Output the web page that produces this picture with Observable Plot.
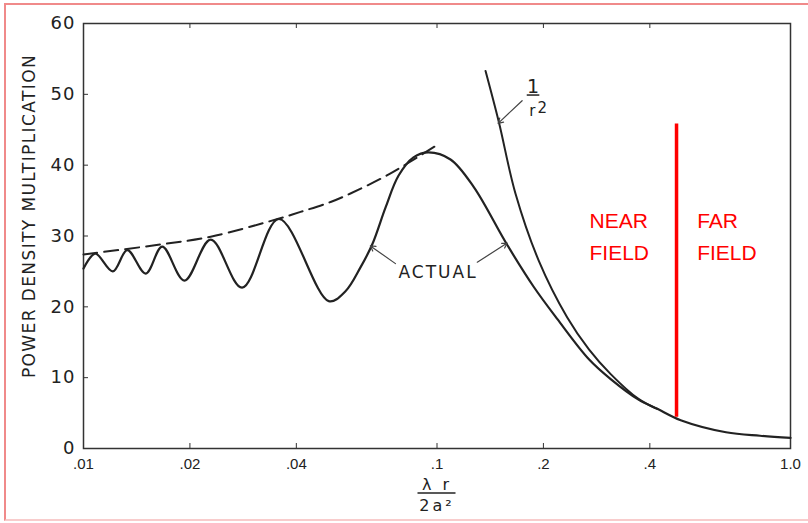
<!DOCTYPE html>
<html><head><meta charset="utf-8">
<script src="https://cdn.jsdelivr.net/npm/d3@7"></script>
<script src="https://cdn.jsdelivr.net/npm/@observablehq/plot@0.6"></script>
<style>
html,body{margin:0;padding:0;background:#fff;overflow:hidden;}
#wrap{position:relative;width:808px;height:523px;overflow:hidden;}
#chart{position:absolute;left:0;top:0;}
#border{position:absolute;left:4px;top:3px;width:840px;height:514px;border:2px solid #f08a8a;border-bottom-color:#f8cccc;pointer-events:none;}
</style></head><body>
<div id="wrap"><div id="chart"></div><div id="border"></div></div>
<script>
// ---- axis ticks ----
const xTicks = [0.01, 0.02, 0.04, 0.1, 0.2, 0.4, 1.0];
const xTickLabels = [".01", ".02", ".04", ".1", ".2", ".4", "1.0"];
const yTicks = [0, 10, 20, 30, 40, 50, 60];
const yLabel = "POWER DENSITY MULTIPLICATION";
const xLabelNum = "λ r";
const xLabelDen = "2a²";

// ---- series: actual power density multiplication ----
const actualX = [0.0100, 0.0108, 0.0121, 0.0133, 0.0150, 0.0167, 0.0193, 0.0229, 0.0281, 0.0357,
                 0.0494, 0.0551, 0.0608, 0.0657, 0.0715, 0.0778, 0.0858, 0.0946, 0.1092, 0.1271, 0.1573,
                 0.1879, 0.2188, 0.269, 0.310, 0.3715, 0.420, 0.489, 0.657, 0.820, 1.0];
const actualY = [25.4, 27.5, 25.0, 28.0, 24.7, 28.5, 23.7, 29.5, 22.7, 32.4,
                 20.8, 22.2, 25.6, 28.9, 34.0, 38.5, 41.1, 41.8, 40.8, 36.9, 28.9,
                 22.8, 18.3, 12.6, 9.8, 6.9, 5.6, 4.0, 2.3, 1.8, 1.5];

// ---- series: dashed envelope ----
const envX = [0.0100, 0.0165, 0.0229, 0.0354, 0.0411, 0.0500, 0.0569, 0.0706, 0.0822, 0.1012];
const envY = [27.4, 28.8, 29.9, 32.4, 33.4, 34.8, 36.0, 38.3, 40.2, 43.0];

// ---- series: 1/r^2 curve ----
const invX = [0.1372, 0.1496, 0.1667, 0.1941, 0.2336, 0.269, 0.310, 0.3715, 0.420];
const invY = [53.3, 46.1, 36.0, 26.5, 18.5, 14.0, 10.5, 7.0, 5.6];

// ---- near/far boundary ----
const boundaryX = [0.476];
const boundaryY1 = [4.4];
const boundaryY2 = [45.8];

// ---- annotations ----
const actualLabel = [{x: 0.1007, y: 24.9, t: "ACTUAL"}];
const actualArrows = [
  {x1: 0.0763, y1: 26.1, x2: 0.0648, y2: 28.6},
  {x1: 0.1300, y1: 26.3, x2: 0.1580, y2: 29.0}
];
const invArrow = [{x1: 0.1741, y1: 49.1, x2: 0.1489, y2: 45.9}];
const invNum = [{x: 0.1870, y: 50.2, t: "1"}];
const invBar = [{x1: 0.1800, x2: 0.1954, y: 49.9}];
const invDen = [{x: 0.1860, y: 47.0, t: "r"}, {x: 0.1985, y: 47.4, t: "2"}];
const fieldLabels = [{x: 0.270, y: 26.6, t: "NEAR\nFIELD"}, {x: 0.5445, y: 26.6, t: "FAR\nFIELD"}];

const W = 808, H = 523, mL = 83, mR = 18, mT = 23, mB = 75;
const fw = W - mL - mR, fh = H - mT - mB;
const ink = "#222";

const actual = actualX.map((x, i) => ({x, y: actualY[i]}));
const env = envX.map((x, i) => ({x, y: envY[i]}));
const inv = invX.map((x, i) => ({x, y: invY[i]}));
const boundary = boundaryX.map((x, i) => ({x, y1: boundaryY1[i], y2: boundaryY2[i]}));

const fracBar = (index, scales, values, dims) => {
  const cx = (dims.marginLeft + dims.width - dims.marginRight) / 2;
  const yb = dims.height - dims.marginBottom + 45;
  return d3.create("svg:line").attr("x1", cx - 19).attr("x2", cx + 19)
    .attr("y1", yb).attr("y2", yb).attr("stroke", ink).attr("stroke-width", 1.5).node();
};

const chart = Plot.plot({
  width: W, height: H,
  marginLeft: mL, marginRight: mR, marginTop: mT, marginBottom: mB,
  style: {background: "transparent", color: ink},
  x: {type: "log", domain: [0.01, 1]},
  y: {domain: [0, 60]},
  marks: [
    Plot.frame({stroke: "#333", strokeWidth: 1.5}),
    Plot.axisX(xTicks, {tickSize: 0, tickPadding: 10, fontSize: 15, fontFamily: "Liberation Sans",
      tickFormat: d => xTickLabels[xTicks.indexOf(d)], label: null}),
    Plot.axisY(yTicks, {tickSize: 0, tickPadding: 8, fontSize: 18, fontFamily: "DejaVu Sans", label: null}),
    Plot.tickX(xTicks, {x: d => d, insetTop: fh - 5, stroke: "#333"}),
    Plot.tickX(xTicks, {x: d => d, insetBottom: fh - 5, stroke: "#333"}),
    Plot.tickY(yTicks, {y: d => d, insetRight: fw - 5, stroke: "#333"}),
    Plot.text([yLabel], {text: d => d, frameAnchor: "left", textAnchor: "middle", rotate: -90, dx: -54, dy: -20,
      fontSize: 17, fontFamily: "DejaVu Sans", fill: ink}),
    Plot.text([xLabelNum], {text: d => d, frameAnchor: "bottom", dy: 41, lineAnchor: "bottom",
      fontSize: 16, fontFamily: "DejaVu Sans", fill: ink}),
    Plot.text([xLabelDen], {text: d => d, frameAnchor: "bottom", dy: 62, lineAnchor: "bottom",
      fontSize: 16, fontFamily: "DejaVu Sans", fill: ink}),
    fracBar,
    Plot.line(env, {x: "x", y: "y", stroke: ink, strokeWidth: 2, strokeDasharray: "14,7", curve: "catmull-rom"}),
    Plot.line(inv, {x: "x", y: "y", stroke: ink, strokeWidth: 2, curve: "catmull-rom"}),
    Plot.line(actual, {x: "x", y: "y", stroke: ink, strokeWidth: 2.2, curve: "catmull-rom"}),
    Plot.ruleX(boundary, {x: "x", y1: "y1", y2: "y2", stroke: "#ff0000", strokeWidth: 3.5}),
    Plot.arrow(actualArrows, {x1: "x1", y1: "y1", x2: "x2", y2: "y2", stroke: "#444", strokeWidth: 1.2, headLength: 7}),
    Plot.arrow(invArrow, {x1: "x1", y1: "y1", x2: "x2", y2: "y2", stroke: "#444", strokeWidth: 1.2, headLength: 7}),
    Plot.text(actualLabel, {x: "x", y: "y", text: "t", fontSize: 17, fontFamily: "DejaVu Sans", fill: ink}),
    Plot.text(invNum, {x: "x", y: "y", text: "t", lineAnchor: "bottom", fontSize: 19, fontFamily: "DejaVu Sans", fill: ink}),
    Plot.ruleY(invBar, {x1: "x1", x2: "x2", y: "y", stroke: ink, strokeWidth: 1.5}),
    Plot.text(invDen, {x: "x", y: "y", text: "t", lineAnchor: "bottom", fontSize: 15, fontFamily: "DejaVu Sans", fill: ink}),
    Plot.text(fieldLabels, {x: "x", y: "y", text: "t", textAnchor: "start", lineAnchor: "bottom", lineHeight: 1.52,
      fontSize: 21, fontFamily: "Liberation Sans", fill: "#ff0000"})
  ]
});
document.getElementById("chart").appendChild(chart);
d3.select(chart).selectAll('[aria-label="y-axis tick label"] text').style("letter-spacing", "1px");
d3.select(chart).selectAll('text').filter(function(){ return this.textContent === yLabel; }).style("letter-spacing", "1.4px");
d3.select(chart).selectAll('text').filter(function(){ return this.textContent === "ACTUAL"; }).style("letter-spacing", "2px");
d3.select(chart).selectAll('text').filter(function(){ return this.textContent === xLabelNum || this.textContent === xLabelDen; }).style("letter-spacing", "3px");
</script>
</body></html>
